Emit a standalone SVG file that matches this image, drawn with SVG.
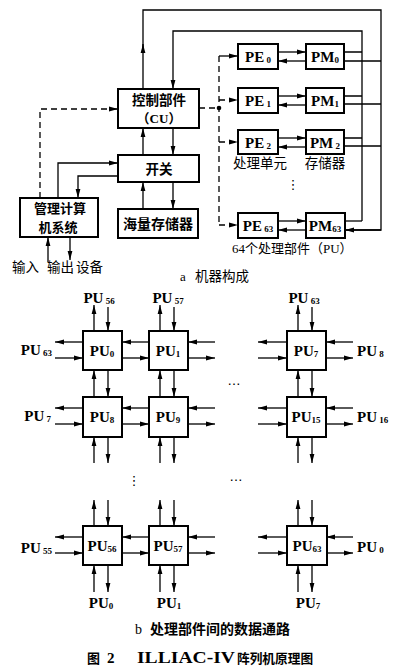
<svg xmlns="http://www.w3.org/2000/svg" width="400" height="670" viewBox="0 0 400 670">
<style>
.box{fill:#fff;stroke:#000;stroke-width:2}
.ln{fill:none;stroke:#000;stroke-width:1.3}
.ds{stroke-dasharray:6 4}
.ar{marker-end:url(#ah)}
.cj{font-family:"Noto Sans CJK SC",sans-serif;font-size:13.5px;font-weight:bold;fill:#000}
.lt{font-family:"Liberation Serif","Noto Sans CJK SC",serif;font-size:15px;font-weight:bold;fill:#000}
.sb{font-size:9px}
.dt{font-family:"DejaVu Sans",sans-serif;font-size:13px;fill:#000}
</style>
<defs>
<marker id="ah" markerUnits="userSpaceOnUse" markerWidth="9" markerHeight="6" refX="9" refY="3" orient="auto">
<path d="M0,0.6 L9,3 L0,5.4 z" fill="#000"/>
</marker>
</defs>
<rect width="400" height="670" fill="#fff"/>

<g id="connectors">
<path class="ln" d="M143,89 V10 H381 V230 H346"/>
<path class="ln ar" d="M381,230 H345"/>
<path class="ln ar" d="M143,52 V44"/>
<path class="ln ar" d="M362,221 V31 H173 V89"/>
<path class="ln" d="M344,52 H362 M344,61 H381"/>
<path class="ln" d="M344,96 H362 M344,104 H381"/>
<path class="ln" d="M344,138 H362 M344,146 H381"/>
<path class="ln" d="M344,221 H362"/>
<path class="ln ar" d="M278,52 H306"/><path class="ln ar" d="M306,61 H278"/>
<path class="ln ar" d="M278,96 H306"/><path class="ln ar" d="M306,105 H278"/>
<path class="ln ar" d="M278,138 H306"/><path class="ln ar" d="M306,147 H278"/>
<path class="ln ar" d="M278,221 H306"/><path class="ln ar" d="M306,230 H278"/>
<path class="ln ds" d="M199,108 H219"/>
<path class="ln ds" d="M219,56 V225"/>
<path class="ln ar" d="M219,56 H238"/>
<path class="ln ds ar" d="M219,100 H238"/>
<path class="ln ds ar" d="M219,142 H238"/>
<path class="ln ds ar" d="M219,225 H238"/>
<circle cx="219" cy="108" r="2.3" fill="#000"/>
<path class="ln ds ar" d="M40,198 V109 H118"/>
<path class="ln ar" d="M143,155 V128"/>
<path class="ln ar" d="M173,128 V155"/>
<path class="ln ar" d="M143,209 V182"/>
<path class="ln ar" d="M173,182 V209"/>
<path class="ln ar" d="M58,198 V163 H118"/>
<path class="ln ar" d="M118,176 H78 V198"/>
<path class="ln ar" d="M48,262 V237"/>
<path class="ln ar" d="M70,237 V260"/>

<g class="ln">
<path class="ar" d="M94,331 V305"/><path class="ar" d="M108,307 V331"/>
<path class="ar" d="M94,397 V370"/><path class="ar" d="M108,370 V397"/>
<path class="ar" d="M94,463 V437"/><path class="ar" d="M108,437 V463"/>
<path class="ar" d="M160,331 V305"/><path class="ar" d="M174,307 V331"/>
<path class="ar" d="M160,397 V370"/><path class="ar" d="M174,370 V397"/>
<path class="ar" d="M160,463 V437"/><path class="ar" d="M174,437 V463"/>
<path class="ar" d="M298,331 V305"/><path class="ar" d="M312,307 V331"/>
<path class="ar" d="M298,397 V370"/><path class="ar" d="M312,370 V397"/>
<path class="ar" d="M298,463 V437"/><path class="ar" d="M312,437 V463"/>
<path class="ar" d="M94,526 V500"/><path class="ar" d="M108,500 V526"/>
<path class="ar" d="M94,592 V565"/><path class="ar" d="M108,565 V592"/>
<path class="ar" d="M160,526 V500"/><path class="ar" d="M174,500 V526"/>
<path class="ar" d="M160,592 V565"/><path class="ar" d="M174,565 V592"/>
<path class="ar" d="M298,526 V500"/><path class="ar" d="M312,500 V526"/>
<path class="ar" d="M298,592 V565"/><path class="ar" d="M312,565 V592"/>
</g>
<g class="ln">
<path class="ar" d="M83,342 H55"/><path class="ar" d="M55,358 H83"/>
<path class="ar" d="M149,342 H122"/><path class="ar" d="M122,358 H149"/>
<path class="ar" d="M215,342 H188"/><path class="ar" d="M188,358 H215"/>
<path class="ar" d="M287,342 H258"/><path class="ar" d="M258,358 H287"/>
<path class="ar" d="M353,342 H326"/><path class="ar" d="M326,358 H353"/>
<path class="ar" d="M83,408 H55"/><path class="ar" d="M55,424 H83"/>
<path class="ar" d="M149,408 H122"/><path class="ar" d="M122,424 H149"/>
<path class="ar" d="M215,408 H188"/><path class="ar" d="M188,424 H215"/>
<path class="ar" d="M287,408 H258"/><path class="ar" d="M258,424 H287"/>
<path class="ar" d="M353,408 H326"/><path class="ar" d="M326,424 H353"/>
<path class="ar" d="M83,537 H55"/><path class="ar" d="M55,553 H83"/>
<path class="ar" d="M149,537 H122"/><path class="ar" d="M122,553 H149"/>
<path class="ar" d="M215,537 H188"/><path class="ar" d="M188,553 H215"/>
<path class="ar" d="M287,537 H258"/><path class="ar" d="M258,553 H287"/>
<path class="ar" d="M353,537 H326"/><path class="ar" d="M326,553 H353"/>
</g>
</g>

<g id="cu"><rect class="box" x="118" y="89" width="81" height="39"/>
<text class="cj" x="159" y="105" text-anchor="middle">控制部件</text>
<text class="lt" x="159" y="123" text-anchor="middle" style="font-size:13px">（CU）</text></g>
<g id="switch"><rect class="box" x="118" y="155" width="81" height="27"/>
<text class="cj" x="159" y="174" text-anchor="middle">开关</text></g>
<g id="mass"><rect class="box" x="118" y="209" width="80" height="29"/>
<text class="cj" x="158" y="229" text-anchor="middle" style="font-size:14px">海量存储器</text></g>
<g id="mgmt"><rect class="box" x="20" y="198" width="78" height="39"/>
<text class="cj" x="60" y="213" text-anchor="middle" style="font-size:13px">管理计算</text>
<text class="cj" x="58" y="232" text-anchor="middle" style="font-size:13px">机系统</text></g>

<g id="pe0"><rect class="box" x="238" y="44" width="40" height="25"/><text class="lt" x="258" y="62" text-anchor="middle">PE<tspan class="sb" dy="1"> 0</tspan></text></g>
<g id="pm0"><rect class="box" x="306" y="44" width="38" height="25"/><text class="lt" x="325" y="62" text-anchor="middle">PM<tspan class="sb" dy="1">0</tspan></text></g>
<g id="pe1"><rect class="box" x="238" y="88" width="40" height="25"/><text class="lt" x="258" y="106" text-anchor="middle">PE<tspan class="sb" dy="1"> 1</tspan></text></g>
<g id="pm1"><rect class="box" x="306" y="88" width="38" height="25"/><text class="lt" x="325" y="106" text-anchor="middle">PM<tspan class="sb" dy="1">1</tspan></text></g>
<g id="pe2"><rect class="box" x="238" y="130" width="40" height="24"/><text class="lt" x="258" y="148" text-anchor="middle">PE<tspan class="sb" dy="1"> 2</tspan></text></g>
<g id="pm2"><rect class="box" x="306" y="130" width="38" height="24"/><text class="lt" x="325" y="148" text-anchor="middle">PM<tspan class="sb" dy="1"> 2</tspan></text></g>
<g id="pe63"><rect class="box" x="238" y="213" width="40" height="25"/><text class="lt" x="258" y="231" text-anchor="middle">PE<tspan class="sb" dy="1"> 63</tspan></text></g>
<g id="pm63"><rect class="box" x="306" y="213" width="39" height="25"/><text class="lt" x="325" y="231" text-anchor="middle">PM<tspan class="sb" dy="1">63</tspan></text></g>

<g id="labels-a">
<text class="cj" x="260" y="168" text-anchor="middle" style="font-weight:normal">处理单元</text>
<text class="cj" x="325" y="168" text-anchor="middle" style="font-weight:normal">存储器</text>
<text class="dt" x="293" y="189" text-anchor="middle">⋮</text>
<text class="lt" x="232" y="253" style="font-size:13px;font-weight:normal">64个处理部件（PU）</text>
<text class="cj" x="12" y="272" style="font-weight:normal">输入</text>
<text class="cj" x="47" y="272" style="font-weight:normal">输出</text>
<text class="cj" x="76" y="272" style="font-weight:normal">设备</text>
<text class="lt" x="180" y="281" style="font-size:13px;font-weight:normal">a</text>
<text class="cj" x="195" y="281" style="font-weight:normal">机器构成</text>
</g>

<g id="pu0"><rect class="box" x="83" y="331" width="39" height="39"/><text class="lt" x="102" y="356" text-anchor="middle">PU<tspan class="sb" dy="1">0</tspan></text></g>
<g id="pu1"><rect class="box" x="149" y="331" width="39" height="39"/><text class="lt" x="168" y="356" text-anchor="middle">PU<tspan class="sb" dy="1">1</tspan></text></g>
<g id="pu7"><rect class="box" x="287" y="331" width="39" height="39"/><text class="lt" x="306" y="356" text-anchor="middle">PU<tspan class="sb" dy="1">7</tspan></text></g>
<g id="pu8"><rect class="box" x="83" y="397" width="39" height="40"/><text class="lt" x="102" y="422" text-anchor="middle">PU<tspan class="sb" dy="1">8</tspan></text></g>
<g id="pu9"><rect class="box" x="149" y="397" width="39" height="40"/><text class="lt" x="168" y="422" text-anchor="middle">PU<tspan class="sb" dy="1">9</tspan></text></g>
<g id="pu15"><rect class="box" x="287" y="397" width="39" height="40"/><text class="lt" x="306" y="422" text-anchor="middle">PU<tspan class="sb" dy="1">15</tspan></text></g>
<g id="pu56"><rect class="box" x="83" y="526" width="39" height="39"/><text class="lt" x="102" y="551" text-anchor="middle">PU<tspan class="sb" dy="1">56</tspan></text></g>
<g id="pu57"><rect class="box" x="149" y="526" width="39" height="39"/><text class="lt" x="168" y="551" text-anchor="middle">PU<tspan class="sb" dy="1">57</tspan></text></g>
<g id="pu63"><rect class="box" x="287" y="526" width="40" height="39"/><text class="lt" x="307" y="551" text-anchor="middle">PU<tspan class="sb" dy="1">63</tspan></text></g>

<g id="labels-b">
<text class="lt" x="99" y="303" text-anchor="middle">PU<tspan class="sb" dy="1"> 56</tspan></text>
<text class="lt" x="168" y="303" text-anchor="middle">PU<tspan class="sb" dy="1"> 57</tspan></text>
<text class="lt" x="304" y="303" text-anchor="middle">PU<tspan class="sb" dy="1"> 63</tspan></text>
<text class="lt" x="52" y="355" text-anchor="end">PU<tspan class="sb" dy="1"> 63</tspan></text>
<text class="lt" x="51" y="421" text-anchor="end">PU<tspan class="sb" dy="1"> 7</tspan></text>
<text class="lt" x="357" y="356">PU<tspan class="sb" dy="1"> 8</tspan></text>
<text class="lt" x="357" y="422">PU<tspan class="sb" dy="1"> 16</tspan></text>
<text class="lt" x="52" y="553" text-anchor="end">PU<tspan class="sb" dy="1"> 55</tspan></text>
<text class="lt" x="357" y="552">PU<tspan class="sb" dy="1"> 0</tspan></text>
<text class="lt" x="101" y="608" text-anchor="middle">PU<tspan class="sb" dy="1">0</tspan></text>
<text class="lt" x="169" y="608" text-anchor="middle">PU<tspan class="sb" dy="1">1</tspan></text>
<text class="lt" x="308" y="608" text-anchor="middle">PU<tspan class="sb" dy="1">7</tspan></text>
<text class="dt" x="234" y="385" text-anchor="middle">…</text>
<text class="dt" x="236" y="481" text-anchor="middle">…</text>
<text class="dt" x="134" y="485" text-anchor="middle">⋮</text>
<text class="lt" x="135" y="634" style="font-size:14px;font-weight:normal">b</text>
<text class="cj" x="150" y="634" style="font-size:14px">处理部件间的数据通路</text>
<text class="cj" x="87" y="663" style="font-size:13px">图</text>
<text class="lt" x="107" y="663" style="font-size:15px">2</text>
<text class="lt" x="137" y="663" style="font-size:17.5px" textLength="98" lengthAdjust="spacingAndGlyphs">ILLIAC-IV</text>
<text class="cj" x="237" y="663" style="font-size:12.7px">阵列机原理图</text>
</g>
</svg>
